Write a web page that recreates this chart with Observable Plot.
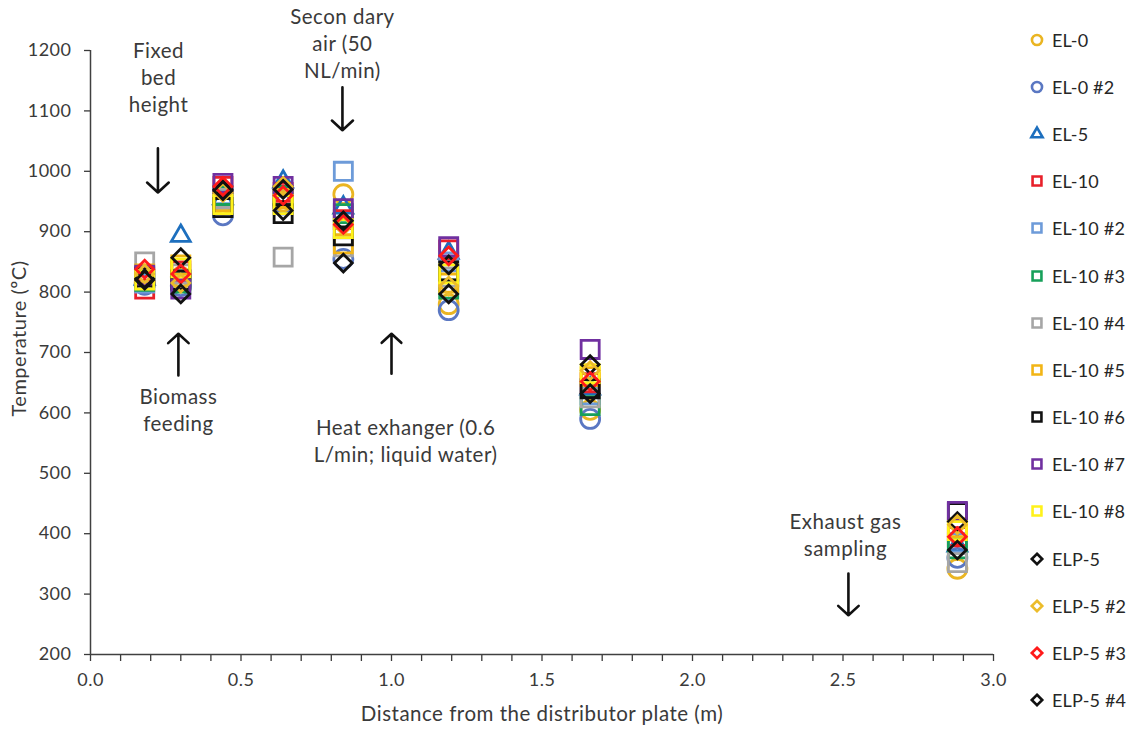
<!DOCTYPE html>
<html>
<head>
<meta charset="utf-8">
<script src="https://cdn.jsdelivr.net/npm/d3@7"></script>
<script src="https://cdn.jsdelivr.net/npm/@observablehq/plot@0.6"></script>
<style>
  html, body { margin: 0; padding: 0; background: #fff; }
  #wrap { position: relative; width: 1136px; height: 740px; font-family: Lato, sans-serif; }
  #chart svg text { letter-spacing: 0.5px; }
  #legend { position: absolute; left: 1028px; top: 16px; }
  .item { height: 47.2px; display: flex; align-items: center; font-size: 18px; color: #262626; white-space: nowrap; letter-spacing: 0.2px; }
  .item svg { margin-right: 6px; }
</style>
</head>
<body>
<div id="wrap"><div id="chart"></div><div id="legend"></div></div>
<script>
// Measurement positions (m from distributor plate)
const positions = [0.18, 0.30, 0.44, 0.64, 0.84, 1.19, 1.66, 2.88];

// Temperatures (ºC) for each run, one value per position
const EL0     = [815, 825, 945, 950, 962, 780, 605, 342];
const EL0_2   = [812, 810, 927, 945, 855, 770, 590, 360];
const EL5     = [822, 893, 955, 983, 940, 865, 640, 380];
const EL10    = [805, 835, 975, 965, 920, 870, 650, 395];
const EL10_2  = [815, 820, 950, 955, 1000, 850, 630, 385];
const EL10_3  = [818, 815, 960, 960, 930, 805, 612, 375];
const EL10_4  = [850, 830, 955, 858, 875, 825, 625, 352];
const EL10_5  = [830, 845, 950, 955, 880, 815, 660, 410];
const EL10_6  = [825, 820, 940, 930, 893, 835, 640, 435];
const EL10_7  = [828, 805, 980, 975, 938, 875, 705, 437];
const EL10_8  = [820, 840, 945, 945, 905, 830, 665, 405];
const ELP5    = [822, 857, 970, 935, 848, 845, 680, 420];
const ELP5_2  = [830, 815, 965, 975, 910, 810, 670, 415];
const ELP5_3  = [838, 830, 975, 960, 912, 860, 652, 395];
const ELP5_4  = [820, 797, 968, 970, 918, 797, 632, 373];

const seriesNames = ["EL-0", "EL-0 #2", "EL-5", "EL-10", "EL-10 #2", "EL-10 #3", "EL-10 #4",
  "EL-10 #5", "EL-10 #6", "EL-10 #7", "EL-10 #8", "ELP-5", "ELP-5 #2", "ELP-5 #3", "ELP-5 #4"];
const seriesValues = [EL0, EL0_2, EL5, EL10, EL10_2, EL10_3, EL10_4, EL10_5, EL10_6, EL10_7, EL10_8,
  ELP5, ELP5_2, ELP5_3, ELP5_4];
const seriesColors = ["#eab522", "#5a77c2", "#1d6fbe", "#e8202a", "#6d9bd9", "#17a05a", "#a6a6a6",
  "#f2b515", "#111111", "#7030a0", "#fff21a", "#111111", "#ecbc2a", "#ff1a1a", "#111111"];
const seriesShapes = ["circle", "circle", "triangle", "square", "square", "square", "square",
  "square", "square", "square", "square", "diamond", "diamond", "diamond", "diamond"];

const yTicks = [200, 300, 400, 500, 600, 700, 800, 900, 1000, 1100, 1200];
const xTickLabels = [0.0, 0.5, 1.0, 1.5, 2.0, 2.5, 3.0];
const xMinorTicks = d3.range(0, 31).map(i => i / 10);

// Annotations (data coordinates)
const annoText = ["Fixed\nbed\nheight", "Secon dary\nair (50\nNL/min)", "Biomass\nfeeding",
  "Heat exhanger (0.6\nL/min; liquid water)", "Exhaust gas\nsampling"];
const annoTextX = [0.226, 0.837, 0.292, 1.047, 2.508];
const annoTextY = [1157, 1214, 606, 556, 400];
const arrowX = [0.224, 0.837, 0.292, 1.0, 2.518];
const arrowFrom = [1038, 1139, 662, 665, 334];
const arrowTo = [965, 1068, 731, 731, 265];

const symbols = {circle: d3.symbolCircle, triangle: d3.symbolTriangle2, square: d3.symbolSquare2, diamond: d3.symbolDiamond2};
const radius = {circle: 9.5, triangle: 9, square: 11.5, diamond: 8};

const dotMarks = seriesNames.map((name, i) => {
  const rows = positions.map((p, j) => ({x: p, y: seriesValues[i][j], name}));
  return Plot.dot(rows, {
    x: "x", y: "y",
    symbol: symbols[seriesShapes[i]],
    r: radius[seriesShapes[i]],
    stroke: seriesColors[i],
    strokeWidth: 2.8,
    fill: "none",
    sort: null
  });
});

const annos = annoText.map((t, i) => ({t, x: annoTextX[i], y: annoTextY[i]}));
const arrows = arrowX.map((x, i) => ({x, y1: arrowFrom[i], y2: arrowTo[i]}));

const textColor = "#3a3a3a";

const chart = Plot.plot({
  width: 1136,
  height: 740,
  marginLeft: 90,
  marginRight: 143,
  marginTop: 50,
  marginBottom: 86,
  style: {fontFamily: "Lato, sans-serif", fontSize: "18px", background: "#fff"},
  x: {domain: [0, 3]},
  y: {domain: [200, 1200]},
  marks: [
    Plot.axisY({ticks: yTicks, tickSize: 6, tickPadding: 13, label: null, color: textColor, strokeWidth: 1.3,
      tickFormat: d => String(d)}),
    Plot.axisX({ticks: xMinorTicks, tickSize: 7, tickPadding: 12, label: null, color: textColor, strokeWidth: 1.3,
      tickFormat: d => xTickLabels.some(v => Math.abs(v - d) < 1e-9) ? d.toFixed(1) : ""}),
    Plot.ruleX([0], {y1: 200, y2: 1200, stroke: "#404040", strokeWidth: 1.5}),
    Plot.ruleY([200], {x1: 0, x2: 3, stroke: "#404040", strokeWidth: 1.5}),
    ...dotMarks,
    Plot.arrow(arrows, {x1: "x", x2: "x", y1: "y1", y2: "y2", stroke: "#111", strokeWidth: 2.6, headLength: 12, headAngle: 95}),
    Plot.text(annos, {x: "x", y: "y", text: "t", lineHeight: 1.32, fill: textColor, fontSize: 20.5, textAnchor: "middle"}),
    Plot.text(["Temperature (ºC)"], {frameAnchor: "left", textAnchor: "middle", dx: -71, dy: -14, rotate: -90, fill: textColor, fontSize: 20}),
    Plot.text(["Distance from the distributor plate (m)"], {frameAnchor: "bottom", dy: 66, fill: textColor, fontSize: 20.5})
  ]
});
document.getElementById("chart").appendChild(chart);

// Legend
const legend = d3.select("#legend");
const legendSize = {circle: 80, triangle: 90, square: 100, diamond: 70};
seriesNames.forEach((name, i) => {
  const item = legend.append("div").attr("class", "item");
  const svg = item.append("svg").attr("width", 18).attr("height", 18);
  svg.append("path")
    .attr("transform", "translate(9,9)")
    .attr("d", d3.symbol(symbols[seriesShapes[i]], legendSize[seriesShapes[i]])())
    .attr("fill", "none")
    .attr("stroke", seriesColors[i])
    .attr("stroke-width", 2.6);
  item.append("span").text(name);
});
</script>
</body>
</html>
